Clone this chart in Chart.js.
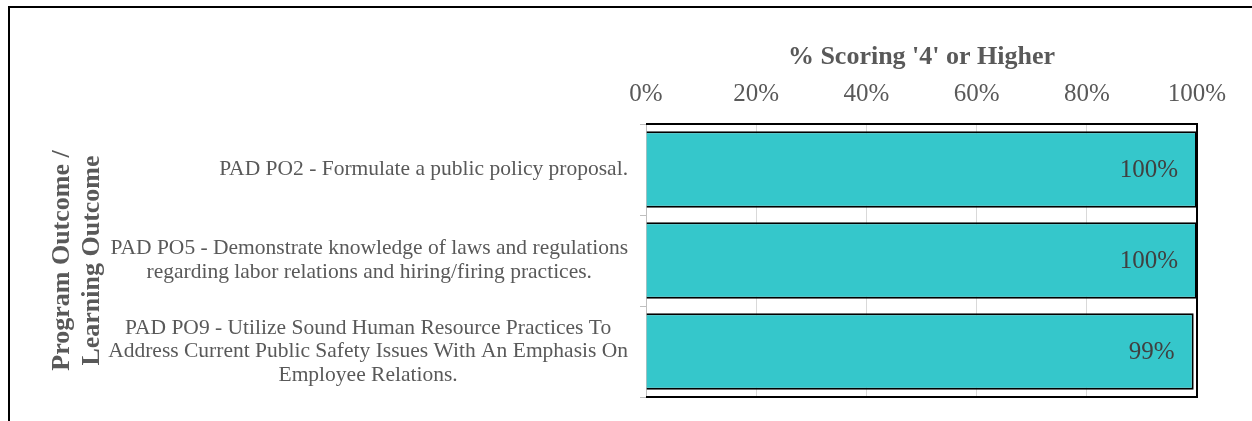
<!DOCTYPE html>
<html>
<head>
<meta charset="utf-8">
<script src="https://cdn.jsdelivr.net/npm/chart.js@4"></script>
<style>
  body { margin: 0; background: #fff; }
  #wrap { position: relative; width: 1252px; height: 421px; }
  #frame { position: absolute; left: 8px; top: 6px; width: 1250px; height: 420px;
           border-top: 2px solid #000; border-left: 2px solid #000; pointer-events: none; }
</style>
</head>
<body>
<div id="wrap">
  <canvas id="chart" width="1252" height="421"></canvas>
  <div id="frame"></div>
</div>
<script>
const outcomes = [
    ['PAD PO2 - Formulate a public policy proposal.'],
    ['PAD PO5 - Demonstrate knowledge of laws and regulations',
     'regarding labor relations and hiring/firing practices.'],
    ['PAD PO9 - Utilize Sound Human Resource Practices To',
     'Address Current Public Safety Issues With An Emphasis On',
     'Employee Relations.']
];
const pctScoring4 = [100, 100, 99.4];
const xTicks = [0, 20, 40, 60, 80, 100];

const serif = "'Liberation Serif', 'Times New Roman', serif";

// plot frame: black on top/right/bottom like the excel plot area
const plotBorder = {
    id: 'plotBorder',
    afterDraw(chart) {
        const { ctx, chartArea: a } = chart;
        ctx.save();
        ctx.strokeStyle = '#000';
        ctx.lineWidth = 2;
        ctx.beginPath();
        ctx.moveTo(a.left, a.top);
        ctx.lineTo(a.right, a.top);
        ctx.lineTo(a.right, a.bottom);
        ctx.lineTo(a.left, a.bottom);
        ctx.stroke();
        ctx.restore();
    }
};

// category labels: each block right aligned to the axis, lines centered in the block
const blockLabels = {
    id: 'blockLabels',
    afterDraw(chart) {
        const { ctx } = chart;
        const y = chart.scales.y;
        const lh = 23.5;
        ctx.save();
        ctx.font = '21.5px ' + serif;
        ctx.fillStyle = '#595959';
        ctx.textAlign = 'center';
        ctx.textBaseline = 'middle';
        outcomes.forEach((lines, i) => {
            const cy = y.getPixelForValue(i);
            const maxW = Math.max(...lines.map(l => ctx.measureText(l).width));
            const cx = y.right - 18 - maxW / 2;
            const y0 = cy - (lines.length - 1) * lh / 2;
            lines.forEach((l, k) => ctx.fillText(l, cx, y0 + k * lh));
        });
        ctx.restore();
    }
};

// value labels inside the end of each bar
const endLabels = {
    id: 'endLabels',
    afterDatasetsDraw(chart) {
        const { ctx } = chart;
        const meta = chart.getDatasetMeta(0);
        ctx.save();
        ctx.font = '25px ' + serif;
        ctx.fillStyle = '#404040';
        ctx.textAlign = 'right';
        ctx.textBaseline = 'middle';
        meta.data.forEach((bar, i) => {
            ctx.fillText(Math.round(pctScoring4[i]) + '%', bar.x - 19, bar.y + 1);
        });
        ctx.restore();
    }
};

new Chart(document.getElementById('chart'), {
    type: 'bar',
    data: {
        labels: outcomes.map(l => l.join(' ')),
        datasets: [{
            data: pctScoring4,
            backgroundColor: '#35C7CB',
            borderColor: '#000',
            borderWidth: 2,
            barPercentage: 0.84,
            categoryPercentage: 1
        }]
    },
    options: {
        indexAxis: 'y',
        responsive: false,
        animation: false,
        layout: { padding: { left: 40, right: 55, top: 20, bottom: 24 } },
        plugins: { legend: { display: false }, tooltip: { enabled: false } },
        scales: {
            x: {
                position: 'top',
                min: 0,
                max: 100,
                afterBuildTicks: s => { s.ticks = xTicks.map(v => ({ value: v })); },
                afterFit: s => { s.height = 104; },
                ticks: {
                    callback: v => v + '%',
                    color: '#595959',
                    font: { family: serif, size: 25 },
                    padding: 15
                },
                grid: { color: '#d9d9d9', drawTicks: false },
                border: { display: false },
                title: {
                    display: true,
                    text: "% Scoring '4' or Higher",
                    color: '#595959',
                    font: { family: serif, size: 26, weight: 'bold' },
                    padding: { top: 22, bottom: 0 }
                }
            },
            y: {
                afterFit: s => { s.width = 606; },
                ticks: { display: false },
                grid: { drawOnChartArea: false, color: '#bfbfbf', tickLength: 6 },
                border: { color: '#bfbfbf', width: 1 },
                title: {
                    display: true,
                    text: ['Program Outcome /', 'Learning Outcome'],
                    color: '#595959',
                    font: { family: serif, size: 26, weight: 'bold', lineHeight: 1.15 },
                    padding: { top: 7, bottom: 0 }
                }
            }
        }
    },
    plugins: [plotBorder, blockLabels, endLabels]
});
</script>
</body>
</html>
